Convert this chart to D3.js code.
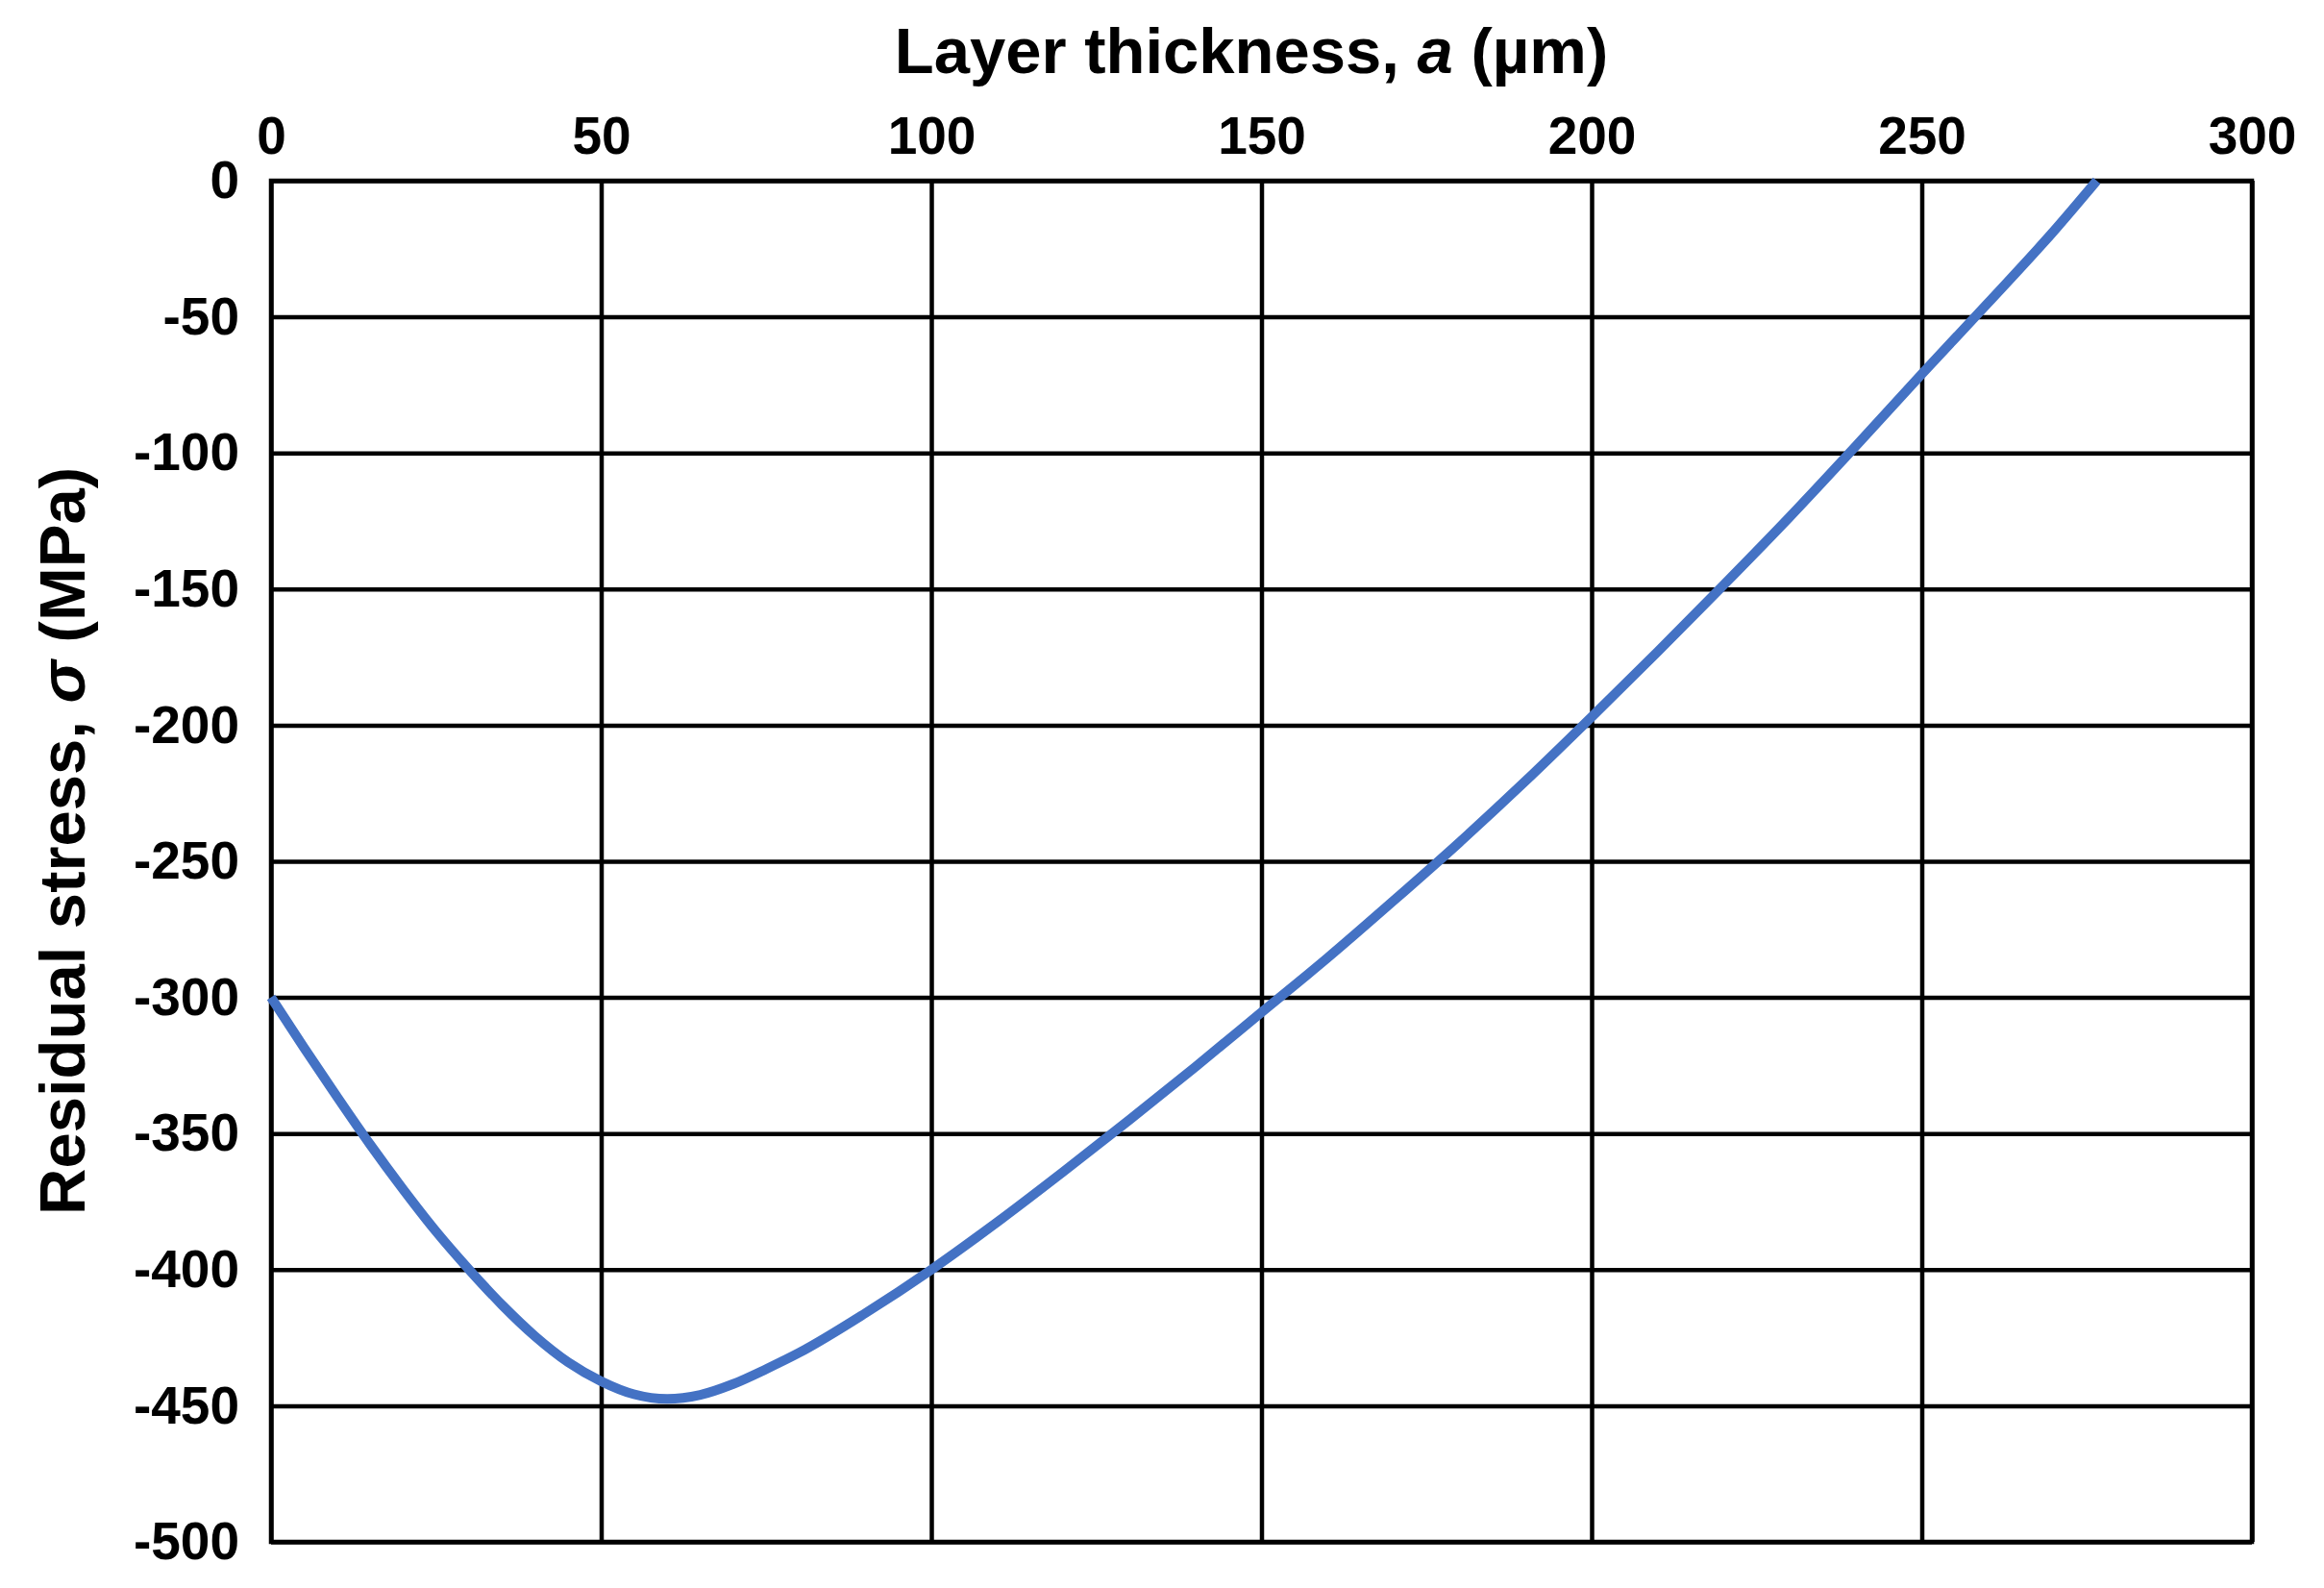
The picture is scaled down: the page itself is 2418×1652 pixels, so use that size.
<!DOCTYPE html>
<html>
<head>
<meta charset="utf-8">
<script src="https://cdn.jsdelivr.net/npm/d3@7"></script>
<style>
  html, body { margin: 0; padding: 0; background: #ffffff; }
  svg { display: block; }
  text { font-family: "Liberation Sans", Arial, sans-serif; font-weight: bold; fill: #000; }
</style>
</head>
<body>
<script>
// ---- data ----
const thickness = [0, 5, 10, 15, 20, 25, 30, 35, 40, 45, 50, 55, 60, 65, 70, 75, 80, 90, 100,
                   110, 120, 130, 140, 150, 160, 170, 180, 190, 200, 210, 220, 230, 240, 250, 260, 270, 276.5];
const stress = [-300, -318.5, -336.5, -354, -370.5, -386, -400, -413, -424.5, -434, -441, -445.8, -447.5, -446, -442, -436.5, -430.5, -416, -400,
                -382.5, -364, -345, -325.5, -305.5, -285.5, -264.5, -243, -220.5, -197, -173, -148.5, -123.5, -97.5, -71, -45, -18.5, 0];
const xTicks = [0, 50, 100, 150, 200, 250, 300];
const yTicks = [0, -50, -100, -150, -200, -250, -300, -350, -400, -450, -500];
const xTitle = "Layer thickness, ";
const xTitleItalic = "a";
const xTitleEnd = " (µm)";
const yTitle = "Residual stress, ";
const yTitleItalic = "σ";
const yTitleEnd = " (MPa)";

// ---- layout ----
const W = 2418, H = 1652;
const m = { left: 282, top: 188, right: 2418 - 2343, bottom: 1652 - 1604 };
const w = W - m.left - m.right, h = H - m.top - m.bottom;

const svg = d3.select("body").append("svg").attr("width", W).attr("height", H);
svg.append("rect").attr("width", W).attr("height", H).attr("fill", "#fff");

const x = d3.scaleLinear().domain([0, 300]).range([0, w]);
const y = d3.scaleLinear().domain([0, -500]).range([0, h]);

const g = svg.append("g").attr("transform", `translate(${m.left},${m.top})`);

// x axis (top) with vertical gridlines
const xAxis = g.append("g")
  .call(d3.axisTop(x).tickValues(xTicks).tickSize(-h).tickPadding(28).tickFormat(d3.format("d")));
xAxis.select(".domain").remove();
xAxis.selectAll("line").attr("stroke", "#000").attr("stroke-width", 4.5);
xAxis.selectAll("text").attr("font-size", 55).attr("font-family", "'Liberation Sans', Arial, sans-serif").attr("font-weight", "bold").attr("fill", "#000");

// y axis (left) with horizontal gridlines
const yAxis = g.append("g")
  .call(d3.axisLeft(y).tickValues(yTicks).tickSize(-w).tickPadding(33).tickFormat(d => d3.format("d")(d).replace("−", "-")));
yAxis.select(".domain").remove();
yAxis.selectAll("line").attr("stroke", "#000").attr("stroke-width", 4.5);
yAxis.selectAll("text").attr("font-size", 55).attr("font-family", "'Liberation Sans', Arial, sans-serif").attr("font-weight", "bold").attr("fill", "#000");

// plot border
g.append("rect").attr("x", 0).attr("y", 0).attr("width", w).attr("height", h)
  .attr("fill", "none").attr("stroke", "#000").attr("stroke-width", 4.5);

// data line
const pts = thickness.map((t, i) => [t, stress[i]]);
g.append("path")
  .datum(pts)
  .attr("fill", "none")
  .attr("stroke", "#4472C4")
  .attr("stroke-width", 10)
  .attr("stroke-linecap", "butt")
  .attr("stroke-linejoin", "round")
  .attr("d", d3.line().x(d => x(d[0])).y(d => y(d[1])).curve(d3.curveMonotoneX));

// axis titles
const xt = svg.append("text")
  .attr("x", 1302).attr("y", 76)
  .attr("text-anchor", "middle")
  .attr("font-size", 67);
xt.append("tspan").text(xTitle);
xt.append("tspan").attr("font-style", "italic").text(xTitleItalic);
xt.append("tspan").text(xTitleEnd);

const yt = svg.append("text")
  .attr("transform", "translate(88,875) rotate(-90)")
  .attr("text-anchor", "middle")
  .attr("font-size", 67);
yt.append("tspan").text(yTitle);
yt.append("tspan").attr("font-style", "italic").text(yTitleItalic);
yt.append("tspan").text(yTitleEnd);
</script>
</body>
</html>
